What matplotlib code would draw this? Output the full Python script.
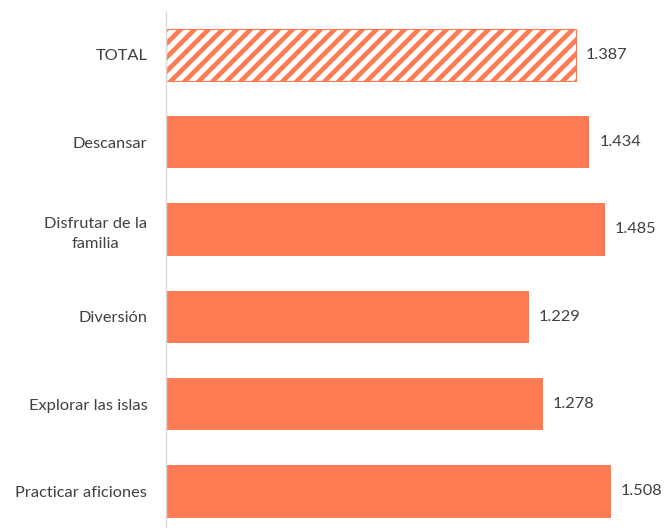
import matplotlib
matplotlib.use("Agg")
import matplotlib.pyplot as plt

categories = ["TOTAL", "Descansar", "Disfrutar de la\nfamilia", "Diversión",
              "Explorar las islas", "Practicar aficiones"]
values = [1.387, 1.434, 1.485, 1.229, 1.278, 1.508]
value_labels = ["1.387", "1.434", "1.485", "1.229", "1.278", "1.508"]

DPI = 84
W, H = 664, 528
plt.rcParams['font.family'] = ['Lato', 'DejaVu Sans']
plt.rcParams['hatch.linewidth'] = 4.0
plt.rcParams['hatch.color'] = '#FF7B53'

fig = plt.figure(figsize=(W / DPI, H / DPI), dpi=DPI)
ax = fig.add_axes([166 / W, 0, 1 - 166 / W, (H - 12) / H])

orange = '#FF7B53'
text_col = '#404040'
pos = list(range(len(categories)))
for i, v in enumerate(values):
    if i == 0:
        ax.barh(i, v, height=0.6, color='white', edgecolor=orange,
                hatch='//', linewidth=1.0)
    else:
        ax.barh(i, v, height=0.6, color=orange, edgecolor='none')
    ax.text(v + 0.033, i, value_labels[i], va='center', ha='left',
            fontsize=14, color=text_col)

ax.set_yticks(pos)
ax.set_yticklabels(categories, fontsize=14, color=text_col,
                   multialignment='center', linespacing=1.55)
ax.tick_params(axis='y', length=0, pad=16)
ax.tick_params(axis='x', length=0, labelbottom=False)
ax.set_xlim(0, (W - 166) / 295.3)
ax.set_ylim(5.418, -0.49)
for s in ['top', 'right', 'bottom']:
    ax.spines[s].set_visible(False)
ax.spines['left'].set_color('#D9D9D9')
ax.spines['left'].set_linewidth(1.2)

fig.savefig('out.png', dpi=DPI)
